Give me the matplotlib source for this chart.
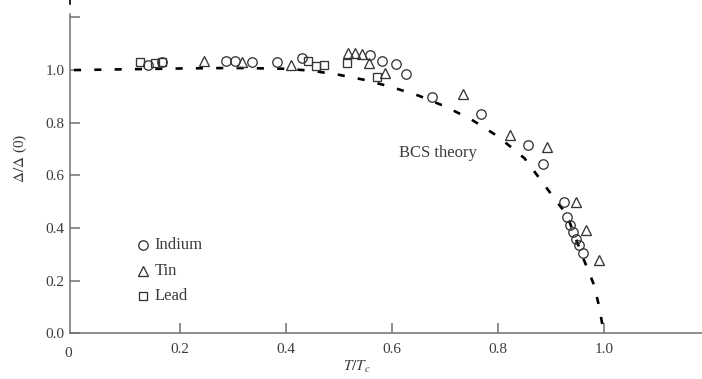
import matplotlib
matplotlib.use("Agg")
import matplotlib.pyplot as plt
from matplotlib.lines import Line2D

plt.rcParams["font.family"] = ["Liberation Serif", "DejaVu Serif"]
plt.rcParams["mathtext.fontset"] = "stix"

# Reduced temperature T/Tc and reduced gap for each superconductor
indium_t = [0.140, 0.166, 0.287, 0.303, 0.336, 0.383, 0.430, 0.558, 0.581,
            0.608, 0.626, 0.675, 0.768, 0.857, 0.885, 0.925, 0.930, 0.936,
            0.942, 0.948, 0.953, 0.960]
indium_gap = [1.020, 1.030, 1.035, 1.035, 1.030, 1.030, 1.045, 1.058, 1.035,
              1.024, 0.986, 0.898, 0.833, 0.716, 0.644, 0.497, 0.440, 0.410,
              0.386, 0.357, 0.336, 0.306]

tin_t = [0.245, 0.317, 0.410, 0.517, 0.530, 0.543, 0.556, 0.587, 0.734,
         0.823, 0.892, 0.947, 0.966, 0.990]
tin_gap = [1.035, 1.030, 1.020, 1.065, 1.065, 1.062, 1.027, 0.990, 0.910,
           0.754, 0.708, 0.497, 0.393, 0.279]

lead_t = [0.125, 0.153, 0.166, 0.442, 0.456, 0.472, 0.515, 0.571]
lead_gap = [1.030, 1.025, 1.030, 1.035, 1.015, 1.020, 1.025, 0.975]

# BCS theory curve, sampled along T/Tc
bcs_t = [0.0, 0.1, 0.2, 0.3, 0.4, 0.45, 0.5, 0.55, 0.6, 0.65, 0.7, 0.75,
         0.8, 0.85, 0.9, 0.93, 0.96, 0.98, 0.99, 1.0]
bcs_gap = [1.000, 1.003, 1.006, 1.008, 1.005, 0.997, 0.982, 0.962, 0.935,
           0.903, 0.862, 0.812, 0.748, 0.665, 0.530, 0.450, 0.290, 0.190,
           0.110, 0.000]

x_ticks = [0.2, 0.4, 0.6, 0.8, 1.0]
x_ticklabels = ["0.2", "0.4", "0.6", "0.8", "1.0"]
y_ticks = [0.0, 0.2, 0.4, 0.6, 0.8, 1.0, 1.2]
y_ticklabels = ["0.0", "0.2", "0.4", "0.6", "0.8", "1.0", ""]

axis_grey = "#707070"
text_grey = "#3c3c3c"
marker_edge = "#353535"

fig = plt.figure(figsize=(7.02, 3.79), dpi=100)
ax = fig.add_axes([0.0997, 0.1206, 0.9003, 0.8425])

ax.plot(bcs_t, bcs_gap, color="black", lw=1.9, ls=(0, (2.7, 5.0)),
        dash_capstyle="butt", zorder=2)

mk = dict(ls="none", mfc="none", mec=marker_edge, mew=0.95, zorder=3)
ax.plot(indium_t, indium_gap, marker="o", ms=6.8, **mk)
ax.plot(tin_t, tin_gap, marker="^", ms=7.3, **mk)
ax.plot(lead_t, lead_gap, marker="s", ms=5.4, **mk)

ax.set_xlim(-0.0075, 1.185)
ax.set_ylim(0.0, 1.213)

for side in ("top", "right"):
    ax.spines[side].set_visible(False)
for side in ("left", "bottom"):
    ax.spines[side].set_color(axis_grey)
    ax.spines[side].set_linewidth(1.1)

ax.set_xticks(x_ticks)
ax.set_xticklabels(x_ticklabels)
ax.set_yticks(y_ticks)
ax.set_yticklabels(y_ticklabels)
ax.tick_params(direction="in", length=7, width=1.1, color=axis_grey,
               labelcolor=text_grey, labelsize=11)
ax.tick_params(axis="x", pad=7)
ax.tick_params(axis="y", pad=4)

# "0" at the origin of the temperature axis
ax.text(-0.01, -0.052, "0", ha="center", va="top", fontsize=11,
        color=text_grey)

# Legend drawn inside the plot area
legend_y = [0.335, 0.238, 0.142]
legend_markers = [("o", 6.8), ("^", 7.3), ("s", 5.4)]
legend_names = ["Indium", "Tin", "Lead"]
for yy, (m, s), name in zip(legend_y, legend_markers, legend_names):
    ax.plot([0.13], [yy], marker=m, ms=s, **mk)
    ax.text(0.152, yy, name, ha="left", va="center", fontsize=12,
            color=text_grey)

ax.text(0.613, 0.685, "BCS theory", ha="left", va="center", fontsize=12,
        color=text_grey)

fig.text(20 / 702, 1 - 158 / 379, r"$\Delta/\Delta$ (0)", rotation=90,
         ha="center", va="center", fontsize=11, color=text_grey)
fig.text(357 / 702, 1 - 367 / 379, r"$T/T_c$", ha="center", va="center",
         fontsize=11, color=text_grey)

fig.add_artist(Line2D([69.5 / 702, 69.5 / 702], [1.0, 1 - 4 / 379],
                      transform=fig.transFigure, color="black", lw=1.2))

fig.savefig("out.png", dpi=100)
